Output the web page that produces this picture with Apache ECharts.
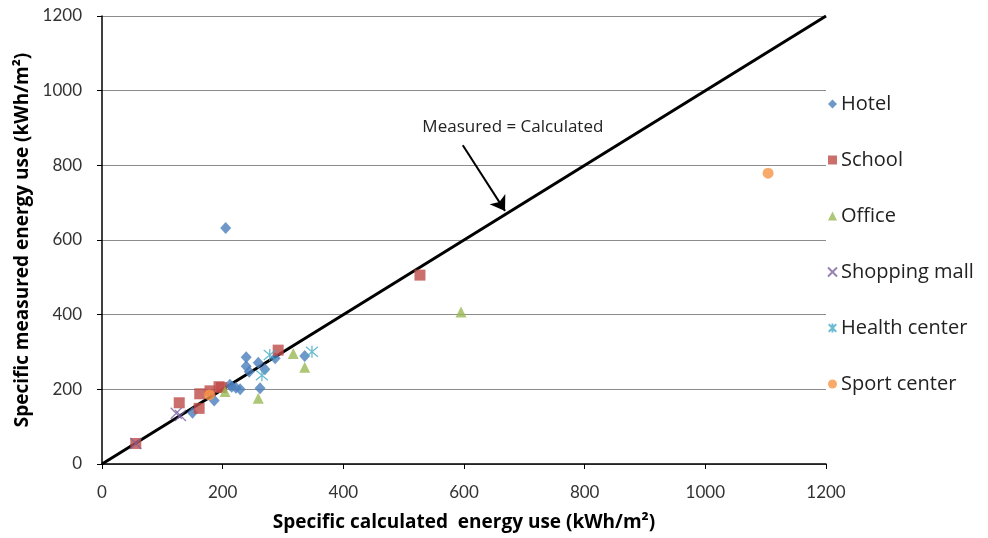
<!DOCTYPE html>
<html>
<head>
<meta charset="utf-8">
<script src="https://cdn.jsdelivr.net/npm/echarts@6/dist/echarts.min.js"></script>
<style>
  html, body { margin: 0; padding: 0; background: #fff; }
  #chart { width: 988px; height: 538px; }
</style>
</head>
<body>
<div id="chart"></div>
<script>
// Specific calculated vs. measured energy use per building type (kWh/m²)
const hotel = [[205,632],[239,286],[239,262],[244,247],[259,271],[270,254],[262,203],[287,283],[336,289],[215,207],[229,200],[212,212],[222,204],[150,137],[186,170]];
const school = [[56,55],[128,164],[161,149],[162,188],[179,196],[194,207],[198,205],[292,305],[527,506]];
const office = [[204,194],[259,176],[317,296],[336,259],[595,407]];
const shoppingMall = [[56,55],[123,136],[130,130]];
const healthCenter = [[265,238],[278,292],[348,301]];
const sportCenter = [[178,185],[1104,779]];

const seriesNames = ['Hotel','School','Office','Shopping mall','Health center','Sport center'];
const axisTicks = [0,200,400,600,800,1000,1200];
const parityLine = [[0,0],[1200,1200]];
const arrowFrom = [598,854];
const arrowTo = [668,678];
const annotationAt = [681,903];
const annotationText = 'Measured = Calculated';

const FONT = '"Open Sans", Lato, "Noto Sans", sans-serif';
const crossPath = 'path://M0,0L10,10M10,0L0,10';
const starPath = 'path://M0,0L10,10M10,0L0,10M5,-1L5,11';

const chart = echarts.init(document.getElementById('chart'), null, { renderer: 'canvas' });

const axisCommon = {
  type: 'value',
  min: axisTicks[0],
  max: axisTicks[axisTicks.length - 1],
  interval: axisTicks[1] - axisTicks[0],
  axisLine: { show: true, onZero: false, lineStyle: { color: '#000', width: 1.5 } },
  axisTick: { show: true, length: 5, lineStyle: { color: '#000', width: 1 } },
  axisLabel: { color: '#333', fontSize: 17, fontFamily: 'Lato, sans-serif', formatter: v => String(v) },
  nameLocation: 'middle',
  nameTextStyle: { color: '#000', fontSize: 19, fontWeight: 'bold', fontFamily: FONT }
};

chart.setOption({
  animation: false,
  backgroundColor: '#fff',
  grid: { left: 102, right: 162, top: 16, bottom: 74 },
  legend: {
    data: seriesNames,
    orient: 'vertical',
    left: 822,
    top: 89,
    itemWidth: 9,
    itemHeight: 9,
    itemGap: 36,
    textStyle: { color: '#222', fontSize: 20, fontFamily: FONT, padding: [0, 0, 0, -1] }
  },
  xAxis: Object.assign({}, axisCommon, {
    name: 'Specific calculated  energy use (kWh/m²)',
    nameGap: 49,
    splitLine: { show: false },
    axisLabel: Object.assign({}, axisCommon.axisLabel, { margin: 20 })
  }),
  yAxis: Object.assign({}, axisCommon, {
    name: 'Specific measured energy use (kWh/m²)',
    nameGap: 70,
    splitLine: { show: true, lineStyle: { color: '#8c8c8c', width: 1 } },
    axisLabel: Object.assign({}, axisCommon.axisLabel, { margin: 20 })
  }),
  series: [
    {
      type: 'line',
      data: parityLine,
      symbol: 'none',
      silent: true,
      z: 1,
      lineStyle: { color: '#000', width: 3 },
      markLine: {
        silent: true,
        symbol: ['none', 'arrow'],
        symbolSize: 14,
        label: { show: false },
        lineStyle: { color: '#000', width: 2, type: 'solid' },
        data: [[{ coord: arrowFrom }, { coord: arrowTo }]]
      },
      markPoint: {
        silent: true,
        symbol: 'circle',
        symbolSize: 0,
        label: {
          show: true,
          position: 'inside',
          formatter: annotationText,
          color: '#222',
          fontSize: 17,
          fontFamily: FONT
        },
        data: [{ coord: annotationAt }]
      }
    },
    {
      name: 'Hotel', type: 'scatter', data: hotel, z: 3,
      symbol: 'diamond', symbolSize: [11, 12],
      itemStyle: { color: '#4a7ebb' }
    },
    {
      name: 'School', type: 'scatter', data: school, z: 4,
      symbol: 'rect', symbolSize: 11,
      itemStyle: { color: '#be4b48' }
    },
    {
      name: 'Office', type: 'scatter', data: office, z: 5,
      symbol: 'triangle', symbolSize: [11, 11],
      itemStyle: { color: '#98b954' }
    },
    {
      name: 'Shopping mall', type: 'scatter', data: shoppingMall, z: 6,
      symbol: crossPath, symbolSize: 11,
      itemStyle: { color: 'rgba(0,0,0,0)', borderColor: '#7d60a0', borderWidth: 1.3 }
    },
    {
      name: 'Health center', type: 'scatter', data: healthCenter, z: 7,
      symbol: starPath, symbolSize: 12,
      itemStyle: { color: 'rgba(0,0,0,0)', borderColor: '#46aac5', borderWidth: 1.3 }
    },
    {
      name: 'Sport center', type: 'scatter', data: sportCenter, z: 8,
      symbol: 'circle', symbolSize: 11,
      itemStyle: { color: '#f69546' }
    }
  ]
});
</script>
</body>
</html>
